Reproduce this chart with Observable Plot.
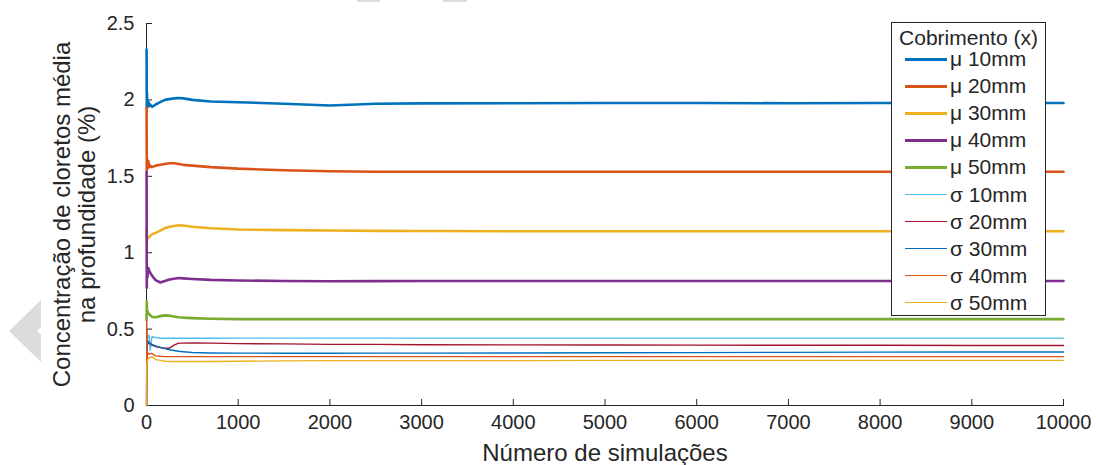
<!DOCTYPE html>
<html><head><meta charset="utf-8">
<script src="https://cdn.jsdelivr.net/npm/d3@7"></script>
<script src="https://cdn.jsdelivr.net/npm/@observablehq/plot@0.6"></script>
<style>
body{margin:0;background:#fff;}
#wrap{position:relative;width:1096px;height:465px;font-family:"Liberation Sans",Arial,sans-serif;color:#262626;overflow:hidden;}
#wrap svg{position:absolute;left:0;top:0;}
#legend{position:absolute;left:891px;top:22px;width:155px;height:294px;border:1px solid #262626;background:#fff;box-sizing:border-box;}
#legend .title{position:absolute;left:0;width:100%;top:3px;text-align:center;font-size:21px;line-height:24px;}
#legend .row{position:absolute;left:0;height:26px;width:100%;}
#legend .sw{position:absolute;left:13px;width:42px;top:50%;}
#legend .lab{position:absolute;left:58px;top:0;font-size:21px;line-height:26px;white-space:nowrap;}
.deco{position:absolute;background:#dcdcdc;}
</style></head>
<body><div id="wrap"></div>
<script>
// ---- data ----
const sims = [1, 3, 5, 10, 20, 30, 40, 60, 100, 150, 200, 250, 300, 350, 400, 500, 700, 1000, 1500, 2000, 2500, 3000, 4000, 5000, 6000, 7000, 8000, 9000, 10000];
const mu10 = [2.33, 1.95, 2.05, 1.95, 1.99, 1.96, 1.97, 1.955, 1.97, 1.985, 2.0, 2.005, 2.01, 2.012, 2.01, 2.0, 1.99, 1.985, 1.975, 1.963, 1.975, 1.977, 1.978, 1.98, 1.98, 1.978, 1.98, 1.98, 1.98];
const mu20 = [1.95, 1.54, 1.62, 1.55, 1.6, 1.56, 1.57, 1.56, 1.57, 1.575, 1.58, 1.585, 1.585, 1.58, 1.575, 1.57, 1.56, 1.55, 1.54, 1.533, 1.53, 1.53, 1.53, 1.53, 1.53, 1.53, 1.53, 1.53, 1.53];
const mu30 = [1.15, 1.07, 1.08, 1.09, 1.1, 1.105, 1.11, 1.12, 1.13, 1.145, 1.16, 1.17, 1.175, 1.18, 1.178, 1.17, 1.16, 1.152, 1.148, 1.145, 1.143, 1.142, 1.14, 1.14, 1.14, 1.14, 1.14, 1.14, 1.14];
const mu40 = [1.53, 0.77, 0.88, 0.84, 0.9, 0.88, 0.87, 0.85, 0.82, 0.805, 0.815, 0.825, 0.83, 0.834, 0.832, 0.828, 0.822, 0.818, 0.815, 0.813, 0.814, 0.815, 0.815, 0.815, 0.815, 0.815, 0.815, 0.815, 0.815];
const mu50 = [0.56, 0.68, 0.6, 0.62, 0.6, 0.6, 0.59, 0.58, 0.578, 0.585, 0.59, 0.588, 0.582, 0.578, 0.575, 0.572, 0.568, 0.565, 0.565, 0.565, 0.565, 0.565, 0.565, 0.565, 0.565, 0.565, 0.565, 0.565, 0.565];
const sd10 = [0, 0.3, 0.42, 0.44, 0.45, 0.46, 0.36, 0.45, 0.445, 0.44, 0.44, 0.44, 0.44, 0.44, 0.44, 0.44, 0.44, 0.441, 0.441, 0.441, 0.441, 0.441, 0.441, 0.441, 0.441, 0.441, 0.441, 0.441, 0.441];
const sd20 = [0, 0.5, 0.38, 0.4, 0.41, 0.405, 0.405, 0.395, 0.385, 0.38, 0.375, 0.375, 0.395, 0.408, 0.408, 0.41, 0.408, 0.405, 0.403, 0.4, 0.4, 0.398, 0.397, 0.396, 0.395, 0.394, 0.394, 0.393, 0.393];
const sd30 = [0, 0.3, 0.38, 0.42, 0.42, 0.41, 0.405, 0.4, 0.39, 0.38, 0.372, 0.365, 0.36, 0.355, 0.352, 0.347, 0.344, 0.343, 0.342, 0.342, 0.343, 0.343, 0.344, 0.345, 0.346, 0.348, 0.349, 0.35, 0.35];
const sd40 = [0, 0.56, 0.3, 0.35, 0.34, 0.335, 0.34, 0.34, 0.325, 0.322, 0.32, 0.32, 0.32, 0.32, 0.32, 0.32, 0.32, 0.32, 0.32, 0.32, 0.32, 0.32, 0.32, 0.32, 0.32, 0.32, 0.32, 0.32, 0.32];
const sd50 = [0, 0.27, 0.28, 0.29, 0.31, 0.31, 0.315, 0.32, 0.3, 0.295, 0.29, 0.288, 0.288, 0.288, 0.288, 0.288, 0.288, 0.29, 0.292, 0.294, 0.294, 0.294, 0.294, 0.295, 0.295, 0.295, 0.295, 0.295, 0.295];
const seriesNames = ["μ 10mm", "μ 20mm", "μ 30mm", "μ 40mm", "μ 50mm", "σ 10mm", "σ 20mm", "σ 30mm", "σ 40mm", "σ 50mm"];
const xTicks = [0, 1000, 2000, 3000, 4000, 5000, 6000, 7000, 8000, 9000, 10000];
const yTicks = [0, 0.5, 1, 1.5, 2, 2.5];
const legendTitle = "Cobrimento (x)";
const xLabel = "Número de simulações";
const yLabel = "Concentração de cloretos média\nna profundidade (%)";

// ---- styles ----
const seriesValues = [mu10, mu20, mu30, mu40, mu50, sd10, sd20, sd30, sd40, sd50];
const colors = ["#0072BD", "#D95319", "#EDB120", "#7E2F8E", "#77AC30", "#4DBEEE", "#A2142F", "#0072BD", "#D95319", "#EDB120"];
const widths = [2.6, 2.6, 2.6, 2.6, 2.6, 1.4, 1.4, 1.4, 1.4, 1.4];
const axisColor = "#262626";

const lineMarks = seriesValues.map((vals, k) =>
  Plot.line(sims.map((s, i) => ({s, v: vals[i]})), {x: "s", y: "v", stroke: colors[k], strokeWidth: widths[k]})
);

const chart = Plot.plot({
  width: 1096, height: 465,
  marginLeft: 146, marginRight: 33, marginTop: 23, marginBottom: 60,
  style: {fontFamily: '"Liberation Sans", Arial, sans-serif', fontSize: "20px", color: axisColor, background: "transparent"},
  x: {domain: [0, 10000]},
  y: {domain: [0, 2.5]},
  marks: [
    Plot.frame({anchor: "left", stroke: axisColor}),
    Plot.frame({anchor: "bottom", stroke: axisColor}),
    Plot.axisX({ticks: xTicks, tickSize: -6, tickPadding: 15, tickFormat: d => String(d), label: null, stroke: axisColor, fill: axisColor, fontSize: 20}),
    Plot.axisY({ticks: yTicks, tickSize: -6, tickPadding: 18, tickFormat: d => String(d), label: null, stroke: axisColor, fill: axisColor, fontSize: 20}),
    ...lineMarks,
    Plot.text([xLabel], {text: d => d, frameAnchor: "bottom", dy: 55, fontSize: 24, fill: axisColor}),
    Plot.text([yLabel], {text: d => d, frameAnchor: "left", textAnchor: "middle", dx: -72, rotate: -90, fontSize: 24, lineHeight: 1.05, fill: axisColor})
  ]
});

const wrap = document.getElementById("wrap");
wrap.appendChild(chart);

// decorative grey shapes present in the reference screenshot
const tri = document.createElement("div");
tri.className = "deco";
Object.assign(tri.style, {left: "9px", top: "300px", width: "32px", height: "62px", clipPath: "polygon(0% 50%, 100% 0%, 100% 44%, 88% 50%, 100% 56%, 100% 100%)"});
wrap.appendChild(tri);
[[357, 23], [443, 24]].forEach(([l, w]) => {
  const d = document.createElement("div");
  d.className = "deco";
  Object.assign(d.style, {left: l + "px", top: "0px", width: w + "px", height: "2px"});
  wrap.appendChild(d);
});

// legend
const lg = document.createElement("div");
lg.id = "legend";
const t = document.createElement("div");
t.className = "title"; t.textContent = legendTitle;
lg.appendChild(t);
seriesNames.forEach((name, k) => {
  const row = document.createElement("div");
  row.className = "row";
  row.style.top = (23 + k * 27.1) + "px";
  const sw = document.createElement("div");
  sw.className = "sw";
  sw.style.borderTop = `${widths[k] > 2 ? 3 : 1.3}px solid ${colors[k]}`;
  sw.style.marginTop = (widths[k] > 2 ? -1.5 : -0.6) + "px";
  const lab = document.createElement("div");
  lab.className = "lab"; lab.textContent = name;
  row.appendChild(sw); row.appendChild(lab);
  lg.appendChild(row);
});
wrap.appendChild(lg);
</script>
</body></html>
